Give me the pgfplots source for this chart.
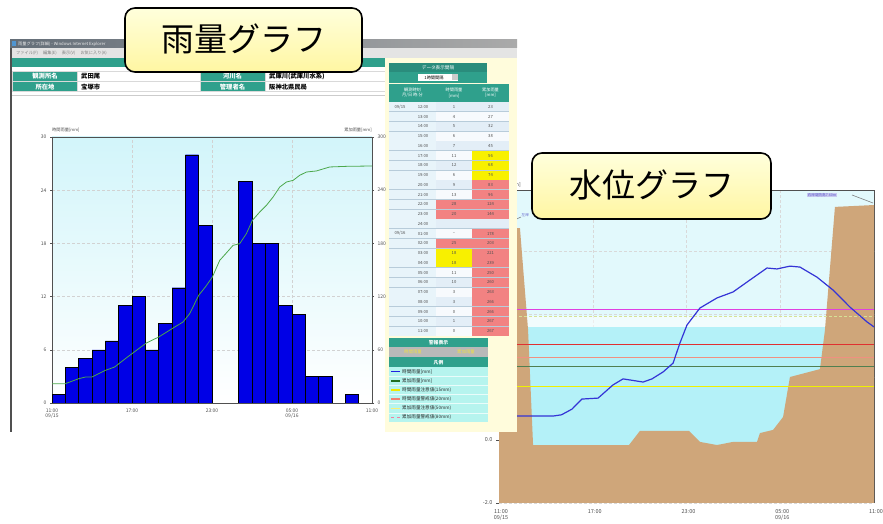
\documentclass[border=0pt]{standalone}
\usepackage{pgfplots}
\pgfplotsset{compat=1.18}
\usepackage{fontspec}
\setmainfont{Noto Sans CJK JP}
\definecolor{tealc}{HTML}{2FA08C}
\definecolor{tealdark}{HTML}{2A8C7C}
\definecolor{cream}{HTML}{FFFCDC}
\definecolor{cb}{HTML}{E3EEF7}
\definecolor{cw}{HTML}{F7FAFD}
\definecolor{cf}{HTML}{E8F4FA}
\definecolor{cr}{HTML}{F28282}
\definecolor{cy}{HTML}{F8F000}
\definecolor{tgrid}{HTML}{B8CCDA}
\definecolor{legc}{HTML}{B6F4EE}
\definecolor{rainblue}{HTML}{0000E6}
\definecolor{cumgreen}{HTML}{4CA84C}
\definecolor{rbgtop}{HTML}{D2F5FA}
\definecolor{wbg}{HTML}{E2F9FC}
\definecolor{watc}{HTML}{B4F1F8}
\definecolor{brownc}{HTML}{CFA67A}
\definecolor{wline}{HTML}{3434D6}
\definecolor{tickgray}{HTML}{505050}
\definecolor{framegray}{HTML}{505050}
\definecolor{calltop}{HTML}{FFFFDC}
\definecolor{callbot}{HTML}{FFF6A2}
\definecolor{lmag}{HTML}{E040E0}
\definecolor{lpale}{HTML}{D6E296}
\definecolor{lred}{HTML}{E03030}
\definecolor{lsalmon}{HTML}{F09080}
\definecolor{lgreen}{HTML}{508050}
\definecolor{lyellow}{HTML}{F0F000}
\definecolor{annot}{HTML}{5A5AC8}
\definecolor{annotbg}{HTML}{C8C8F0}
\definecolor{titleL}{HTML}{646E78}
\definecolor{titleR}{HTML}{AAAAAA}
\definecolor{iconc}{HTML}{5096D2}
\definecolor{menuc}{HTML}{E4E4E4}
\definecolor{legtext}{HTML}{282828}
\definecolor{lgA}{HTML}{2020E0}
\definecolor{lgB}{HTML}{207020}
\definecolor{lgC}{HTML}{F0E800}
\definecolor{lgD}{HTML}{F08070}
\definecolor{lgE}{HTML}{F8F078}
\definecolor{lgF}{HTML}{F080A0}
\definecolor{warnyel}{HTML}{F0E040}
\newcommand\fs[1]{\fontsize{#1}{#1}\selectfont}
\begin{document}
\begin{tikzpicture}[x=1pt,y=1pt]
\useasboundingbox (0,0) rectangle (883,524);
\fill[white] (0,0) rectangle (883,524);

% ================= water level chart =================
\begin{axis}[at={(499pt,21pt)}, anchor=south west, scale only axis,
  width=375pt, height=312pt,
  xmin=0, xmax=24, ymin=-2, ymax=7.905,
  axis background/.style={fill=wbg},
  xtick={0,6,12,18,24},
  xticklabels={{11:00\\09/15},{17:00},{23:00},{05:00\\09/16},{11:00}},
  xticklabel style={align=center, font=\fs{5.5}, text=tickgray, xshift=2pt},
  ytick={-2,0},
  extra y ticks={2,4,6}, extra y tick labels={},
  extra y tick style={grid=major},
  ytick pos=left,
  yticklabel={\pgfmathprintnumber[fixed,fixed zerofill,precision=1]{\tick}},
  yticklabel style={font=\fs{5.5}, text=tickgray},
  /pgf/number format/assume math mode=true,
  grid=major, major grid style={densely dashed, gray!30, line width=0.3pt},
  axis line style={draw=framegray, line width=1pt},
  xtick style={draw=none}, ytick style={draw=framegray}, tick align=outside,
  major tick length=3pt, clip=true]
\addplot[fill=watc, draw=none] coordinates {(0,-2) (0,3.59) (24,3.59) (24,-2)} -- cycle;
\addplot[fill=white, fill opacity=0.55, draw=none] coordinates {(0,3.59) (0,3.95) (24,3.95) (24,3.59)} -- cycle;
\addplot[fill=brownc, draw=none] coordinates {(0,-2) (0,6.73) (1.34,6.73) (1.86,3.49) (2.18,-0.16)
  (8.32,-0.16) (9.02,0.29) (12.16,0.29) (12.86,-0.06) (13.95,-0.16) (14.98,-0.06) (16.51,-0.06)
  (16.7,0.22) (17.54,0.32) (18.18,0.73) (18.62,2.0) (20.54,2.25) (20.86,3.49) (21.5,7.40) (24,7.46) (24,-2)} -- cycle;
\addplot[draw=lmag, line width=0.9pt] coordinates {(0,4.13) (24,4.13)};
\addplot[draw=lpale, line width=0.5pt, densely dashed] coordinates {(0,3.92) (24,3.92)};
\addplot[draw=lred, line width=0.9pt] coordinates {(0,3.02) (24,3.02)};
\addplot[draw=lsalmon, line width=0.9pt] coordinates {(0,2.63) (24,2.63)};
\addplot[draw=lgreen, line width=0.9pt] coordinates {(0,2.35) (24,2.35)};
\addplot[draw=lyellow, line width=1.1pt] coordinates {(0,1.71) (24,1.71)};
\addplot[draw=wline, line width=1.2pt] coordinates {(0,0.76) (3.46,0.76) (4.0,0.80) (4.67,0.98) (5.31,1.30)
  (6.34,1.33) (7.30,1.75) (7.94,1.94) (9.22,1.84) (9.79,1.94) (10.5,2.16) (11.14,2.44) (11.58,3.08)
  (12.03,3.65) (12.86,4.19) (13.95,4.51) (14.98,4.70) (16.06,5.08) (17.15,5.46) (17.79,5.43)
  (18.62,5.52) (19.26,5.49) (20.35,5.17) (21.38,4.76) (22.46,4.22) (23.55,3.75) (24,3.59)};
\end{axis}
\node[anchor=east, font=\fs{5}, text=tickgray, inner sep=0] at (521,339) {水位[m]};
\node[anchor=west, font=\fs{3.6}, text=annot, fill=annotbg, inner sep=0.6pt] at (807,329) {右岸堤防高7.60m};
\draw[gray, line width=0.6pt] (852,329) -- (873,321);
\node[anchor=west, font=\fs{3.6}, text=annot, inner sep=0.5pt] at (521,309) {左岸};
\draw[gray, line width=0.6pt] (510,302) -- (521,307);

% ================= rain window =================
\fill[white] (10,92) rectangle (517,484);
\fill[cream] (385,92) rectangle (517,466);
% title bar
\shade[left color=titleL, right color=titleR] (10,476) rectangle (517,484);
\node[anchor=west, font=\fs{4.2}, text=white!85!gray, inner sep=0] at (18,480) {雨量グラフ(詳細) - Windows Internet Explorer};
\fill[iconc] (12,477.5) rectangle (16,482.5);
\fill[menuc] (10,466) rectangle (517,476);
\node[anchor=west, font=\fs{4.2}, text=gray, inner sep=0] at (16,471) {ファイル(F)\hspace{5pt}編集(E)\hspace{5pt}表示(V)\hspace{5pt}お気に入り(A)};
\fill[framegray] (10,92) rectangle (12,476);
% header strip and rows
\fill[tealc] (12,457) rectangle (385,466);
\fill[gray!30] (12,432) rectangle (385,453);
\fill[tealc] (13,442.6) rectangle (77,452.4);
\fill[white] (77.6,442.6) rectangle (200,452.4);
\fill[tealc] (200.6,442.6) rectangle (265,452.4);
\fill[white] (265.6,442.6) rectangle (384.6,452.4);
\fill[tealc] (13,432.6) rectangle (77,442);
\fill[white] (77.6,432.6) rectangle (200,442);
\fill[tealc] (200.6,432.6) rectangle (265,442);
\fill[white] (265.6,432.6) rectangle (384.6,442);
\begin{scope}[font=\fs{6.3}\bfseries, inner sep=0]
\node[text=white] at (45,447.5) {観測所名};
\node[text=white] at (45,437.3) {所在地};
\node[text=white] at (232.5,447.5) {河川名};
\node[text=white] at (232.5,437.3) {管理者名};
\node[anchor=west] at (81,447.5) {武田尾};
\node[anchor=west] at (81,437.3) {宝塚市};
\node[anchor=west] at (269,447.5) {武庫川(武庫川水系)};
\node[anchor=west] at (269,437.3) {阪神北県民局};
\end{scope}
\draw[gray!40, line width=0.5pt] (12,429) -- (385,429);

% ---- data table ----
\fill[tealdark] (389,452) rectangle (487,461);
\node[font=\fs{4.6}, text=white, inner sep=0] at (438,456.5) {データ表示間隔};
\fill[tealc] (389,441) rectangle (487,452);
\fill[white] (418,443) rectangle (458,450);
\fill[gray!40] (452,443.5) rectangle (457.5,449.5);
\node[font=\fs{4.2}, inner sep=0] at (434,446.5) {1時間間隔};
\fill[tgrid] (389,188) rectangle (509,440);
\fill[tealc] (389.4,422.4) rectangle (435.6,439.6);
\fill[tealc] (436.4,422.4) rectangle (471.6,439.6);
\fill[tealc] (472.4,422.4) rectangle (508.6,439.6);
\begin{scope}[font=\fs{4.2}, text=white, inner sep=0, align=center]
\node at (412.5,431) {観測時刻\\[1pt]月/日\ 時:分};
\node at (454,431) {時間雨量\\[1pt][mm]};
\node at (490.5,431) {累加雨量\\[1pt][mm]};
\end{scope}
\foreach \t/\a/\b/\ca/\cb [count=\i from 0] in {
 12:00/1/23/cb/cb, 13:00/4/27/cw/cw, 14:00/5/32/cb/cb, 15:00/6/38/cw/cw,
 16:00/7/45/cb/cb, 17:00/11/56/cw/cy, 18:00/12/68/cb/cy, 19:00/6/74/cw/cy,
 20:00/9/83/cb/cr, 21:00/13/96/cw/cr, 22:00/28/124/cr/cr, 23:00/20/144/cr/cr,
 24:00/{}/{}/cb/cb, 01:00/--/178/cw/cr, 02:00/25/203/cr/cr, 03:00/18/221/cy/cr,
 04:00/18/239/cy/cr, 05:00/11/250/cw/cr, 06:00/10/260/cb/cr, 07:00/3/263/cw/cr,
 08:00/3/266/cb/cr, 09:00/0/266/cw/cr, 10:00/1/267/cb/cr, 11:00/0/267/cw/cr}{
  \pgfmathsetmacro\yt{422-9.75*\i}
  \pgfmathsetmacro\yb{\yt-9.75}
  \pgfmathsetmacro\ym{\yt-4.875}
  \fill[cf] (389.4,\yb+0.4) rectangle (435.6,\yt-0.4);
  \fill[\ca] (436.4,\yb+0.4) rectangle (471.6,\yt-0.4);
  \fill[\cb] (472.4,\yb+0.4) rectangle (508.6,\yt-0.4);
  \node[font=\fs{4.2}, text=tickgray, inner sep=0] at (423,\ym) {\t};
  \node[font=\fs{4.2}, text=tickgray, inner sep=0] at (454,\ym) {\a};
  \node[font=\fs{4.2}, text=tickgray, inner sep=0] at (490.5,\ym) {\b};
}
\node[font=\fs{4.2}, text=tickgray, inner sep=0] at (400,417.1) {09/15};
\node[font=\fs{4.2}, text=tickgray, inner sep=0] at (400,290.4) {09/16};

% ---- warning + legend panel ----
\fill[tealc] (389,177) rectangle (488,186);
\node[font=\fs{4.8}\bfseries, text=white, inner sep=0] at (438.5,181.5) {警報表示};
\fill[gray!55] (389,167) rectangle (488,177);
\node[font=\fs{4.4}, text=warnyel, inner sep=0] at (413,172) {時間雨量};
\node[font=\fs{4.4}, text=warnyel, inner sep=0] at (466,172) {累加雨量};
\fill[tealc] (389,157) rectangle (488,166.5);
\node[font=\fs{4.8}\bfseries, text=white, inner sep=0] at (438.5,161.7) {凡例};
\fill[legc] (389,102) rectangle (488,157);
\foreach \k in {1,...,5}{\draw[white!70!legc, line width=0.5pt] (389,157-9.17*\k) -- (488,157-9.17*\k);}
\foreach \k/\txt/\col/\sty in {
 0/{時間雨量[mm]}/lgA/solid,
 1/{累加雨量[mm]}/lgB/solid,
 2/{時間雨量注意値(15mm)}/lgC/solid,
 3/{時間雨量警戒値(20mm)}/lgD/solid,
 4/{累加雨量注意値(50mm)}/lgE/solid,
 5/{累加雨量警戒値(80mm)}/lgF/dashed}{
  \pgfmathsetmacro\ym{157-9.17*(\k+0.5)}
  \draw[draw=\col, line width=1.5pt, \sty] (391,\ym) -- (400,\ym);
  \node[anchor=west, font=\fs{4.6}, text=legtext, inner sep=0] at (402,\ym) {\txt};
}

% ================= rain chart =================
\begin{axis}[at={(52pt,121pt)}, anchor=south west, scale only axis,
  width=320pt, height=266pt,
  xmin=0, xmax=24, ymin=0, ymax=30,
  axis background/.style={top color=rbgtop, bottom color=white},
  xtick={0,6,12,18,24},
  xticklabels={{11:00\\09/15},{17:00},{23:00},{05:00\\09/16},{11:00}},
  xticklabel style={align=center, font=\fs{5}, text=tickgray},
  ytick={0,6,12,18,24,30},
  ytick pos=left,
  yticklabel style={font=\fs{5}, text=tickgray},
  /pgf/number format/assume math mode=true,
  grid=major, major grid style={densely dashed, gray!35, line width=0.3pt},
  axis line style={draw=framegray, line width=0.9pt},
  xtick style={draw=none}, ytick style={draw=framegray}, tick align=outside,
  major tick length=2pt]
\addplot[ybar, bar width=13.333pt, bar shift=0pt, fill=rainblue, draw=black, line width=0.35pt]
 coordinates {(0.5,1) (1.5,4) (2.5,5) (3.5,6) (4.5,7) (5.5,11) (6.5,12) (7.5,6) (8.5,9) (9.5,13)
  (10.5,28) (11.5,20) (14.5,25) (15.5,18) (16.5,18) (17.5,11) (18.5,10) (19.5,3) (20.5,3) (22.5,1)};
\end{axis}
\begin{axis}[at={(52pt,121pt)}, anchor=south west, scale only axis,
  width=320pt, height=266pt,
  xmin=0, xmax=24, ymin=0, ymax=300,
  axis y line*=right, axis x line=none,
  ytick={0,60,120,180,240,300},
  yticklabel style={font=\fs{5}, text=tickgray},
  /pgf/number format/assume math mode=true,
  axis line style={draw=framegray, line width=0.9pt},
  ytick style={draw=framegray}, tick align=outside, major tick length=2pt]
\addplot[draw=cumgreen, line width=0.8pt] coordinates {(0,21.8) (1,21.8) (2,27.4) (2.5,29.3) (3,29.3)
  (3.5,33.1) (4,36.8) (4.7,40.6) (5.5,50) (6.5,61.3) (7.08,67.7) (8,74.4) (9,83.8) (9.83,91.4)
  (10.33,100.8) (11,121.4) (11.5,130.8) (12.03,142.1) (12.58,160.9) (13.03,168.4) (13.58,177.8)
  (14.08,179.7) (14.58,191) (15.03,206) (15.58,215.4) (16.08,222.9) (16.58,232.3) (17.08,243.6)
  (17.58,249.2) (18.08,251.1) (18.58,256.8) (19.08,260.5) (19.83,261.7) (20.83,266.2) (22.08,266.9) (24,267.3)};
\end{axis}
\node[anchor=west, font=\fs{4.2}, text=tickgray, inner sep=0] at (52,394) {時間雨量[mm]};
\node[anchor=east, font=\fs{4.2}, text=tickgray, inner sep=0] at (372,394) {累加雨量[mm]};

% ================= callouts =================
\draw[line width=1.6pt, rounded corners=10pt, top color=calltop, bottom color=callbot] (125,452) rectangle (362,516);
\node[font=\fs{33}, inner sep=0] at (244,485) {雨量グラフ};
\draw[line width=1.6pt, rounded corners=10pt, top color=calltop, bottom color=callbot] (532,305) rectangle (771,371);
\node[font=\fs{33}, inner sep=0] at (652,339) {水位グラフ};
\end{tikzpicture}
\end{document}
